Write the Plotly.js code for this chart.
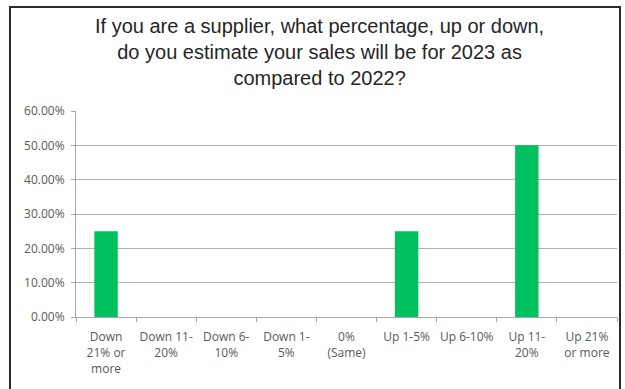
<!DOCTYPE html>
<html>
<head>
<meta charset="utf-8">
<script src="https://cdn.plot.ly/plotly-3.0.1.min.js"></script>
<style>html,body{margin:0;padding:0;background:#fff;}#chart{width:625px;height:389px;}</style>
</head>
<body>
<div id="chart"></div>
<script>
const categories = ["Down 21% or more", "Down 11-20%", "Down 6-10%", "Down 1-5%", "0% (Same)", "Up 1-5%", "Up 6-10%", "Up 11-20%", "Up 21% or more"];
const tickLabels = ["Down<br>21% or<br>more", "Down 11-<br>20%", "Down 6-<br>10%", "Down 1-<br>5%", "0%<br>(Same)", "Up 1-5%", "Up 6-10%", "Up 11-<br>20%", "Up 21%<br>or more"];
const values = [0.25, 0, 0, 0, 0, 0.25, 0, 0.50, 0];
const yTickVals = [0, 0.1, 0.2, 0.3, 0.4, 0.5, 0.6];
const yTickText = ["0.00%", "10.00%", "20.00%", "30.00%", "40.00%", "50.00%", "60.00%"];
const titleText = "If you are a supplier, what percentage, up or down,<br>do you estimate your sales will be for 2023 as<br>compared to 2022?";

const W = 625, H = 389;
const mL = 76, mR = 8, mT = 111, mB = 72;
const pw = W - mL - mR, ph = H - mT - mB;
const px = x => (x - mL) / pw;
const py = y => (H - mB - y) / ph;

const trace = {
  type: 'bar',
  x: categories,
  y: values,
  marker: {color: '#00c060', line: {width: 0}},
  hoverinfo: 'skip'
};

const layout = {
  width: W, height: H,
  margin: {l: mL, r: mR, t: mT, b: mB, pad: 0},
  paper_bgcolor: '#ffffff',
  plot_bgcolor: '#ffffff',
  showlegend: false,
  bargap: 0.61,
  font: {family: 'Open Sans, sans-serif', color: '#595959'},
  xaxis: {
    type: 'category',
    tickmode: 'array',
    tickvals: categories,
    ticktext: tickLabels,
    tickangle: 0,
    tickfont: {size: 12, color: '#595959', family: 'Open Sans, sans-serif'},
    ticks: 'outside', ticklen: 4, tickcolor: '#a6a6a6',
    ticklabelstandoff: 9,
    tickson: 'boundaries',
    showline: true, linecolor: '#a6a6a6', linewidth: 1,
    showgrid: false, zeroline: false, fixedrange: true
  },
  yaxis: {
    range: [0, 0.6],
    tickmode: 'array',
    tickvals: yTickVals,
    ticktext: yTickText,
    tickfont: {size: 12, color: '#595959', family: 'Open Sans, sans-serif'},
    ticks: 'outside', ticklen: 4, tickcolor: '#a6a6a6',
    ticklabelstandoff: 4,
    showline: true, linecolor: '#a6a6a6', linewidth: 1,
    showgrid: true, gridcolor: '#b0b0b0', gridwidth: 1,
    zeroline: false, fixedrange: true
  },
  annotations: [{
    text: titleText,
    xref: 'paper', yref: 'paper',
    x: px(319), y: py(52),
    xanchor: 'center', yanchor: 'middle',
    showarrow: false, align: 'center',
    font: {family: 'Liberation Sans, Arial, sans-serif', size: 20, color: '#262626'}
  }],
  shapes: [{
    type: 'rect', xref: 'paper', yref: 'paper',
    x0: px(10), x1: px(620), y0: py(395), y1: py(7),
    line: {color: '#2a2a2a', width: 2}, fillcolor: 'rgba(0,0,0,0)', layer: 'above'
  }]
};

Plotly.newPlot('chart', [trace], layout, {displayModeBar: false, staticPlot: true});
</script>
</body>
</html>
